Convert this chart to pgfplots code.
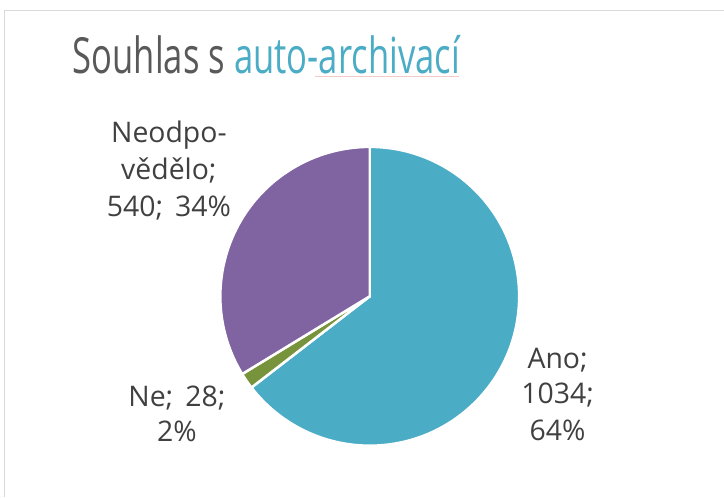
\documentclass[border=0pt]{standalone}
\usepackage{pgfplots}
\pgfplotsset{compat=1.18}
\usepackage{pgfplotstable}
\usepackage{fontspec}
\setmainfont{Open Sans}
\definecolor{anoC}{HTML}{4BACC6}
\definecolor{neC}{HTML}{77933C}
\definecolor{neodC}{HTML}{8064A2}
\definecolor{titleC}{HTML}{595959}
\definecolor{labelC}{HTML}{404040}
\definecolor{frameC}{HTML}{D9D9D9}
\definecolor{pinkC}{HTML}{F6C9C9}
\pgfplotstableread{
label value
Ano 1034
Ne 28
Neodpovedelo 540
}\piedata
\begin{document}
\begin{tikzpicture}
\pgfplotstablegetelem{0}{value}\of\piedata \let\va\pgfplotsretval
\pgfplotstablegetelem{1}{value}\of\piedata \let\vb\pgfplotsretval
\pgfplotstablegetelem{2}{value}\of\piedata \let\vc\pgfplotsretval
\pgfmathsetmacro\tot{\va+\vb+\vc}
\pgfmathsetmacro\fA{\va/\tot}
\pgfmathsetmacro\fB{\vb/\tot}
\pgfmathsetmacro\aA{90-360*\fA}
\pgfmathsetmacro\aB{\aA-360*\fB}
\begin{axis}[x=1bp,y=1bp,xmin=0,xmax=724,ymin=0,ymax=497,hide axis,clip=false,
  anchor=origin, at={(0,0)}]
\fill[white] (axis cs:0,0) rectangle (axis cs:724,497);
\draw[frameC, line width=1bp] (axis cs:5,0) -- (axis cs:5,486.5) -- (axis cs:724,486.5);
% pie
\fill[anoC, draw=white, line width=2.5bp] (axis cs:370,200.5) -- ++(90:149.5bp)
  arc[start angle=90, end angle=\aA, radius=149.5bp] -- cycle;
\fill[neC, draw=white, line width=2.5bp] (axis cs:370,200.5) -- ++(\aA:149.5bp)
  arc[start angle=\aA, end angle=\aB, radius=149.5bp] -- cycle;
\fill[neodC, draw=white, line width=2.5bp] (axis cs:370,200.5) -- ++(\aB:149.5bp)
  arc[start angle=\aB, end angle=-270, radius=149.5bp] -- cycle;
% title
\node[anchor=base, inner sep=0pt, font=\fontsize{50}{60}\selectfont] at (axis cs:266.5,423)
  {\scalebox{0.695}[1]{\textcolor{titleC}{Souhlas s }\textcolor{anoC}{auto-archivací}}};
\draw[pinkC, line width=0.8bp] (axis cs:315,420.5) -- (axis cs:459,420.5);
% labels
\tikzset{lab/.style={anchor=base, inner sep=0pt, text=labelC, font=\fontsize{28.5}{32}\selectfont}}
\node[lab] at (axis cs:169,354) {Neodpo-};
\node[lab] at (axis cs:169,317) {vědělo;};
\node[lab] at (axis cs:169,280) {540;\, 34\%};
\node[lab] at (axis cs:177,90) {Ne;\, 28;};
\node[lab] at (axis cs:177,55) {2\%};
\node[lab] at (axis cs:558,128) {Ano;};
\node[lab] at (axis cs:558,93) {1034;};
\node[lab] at (axis cs:558,56) {64\%};
\end{axis}
\end{tikzpicture}
\end{document}
